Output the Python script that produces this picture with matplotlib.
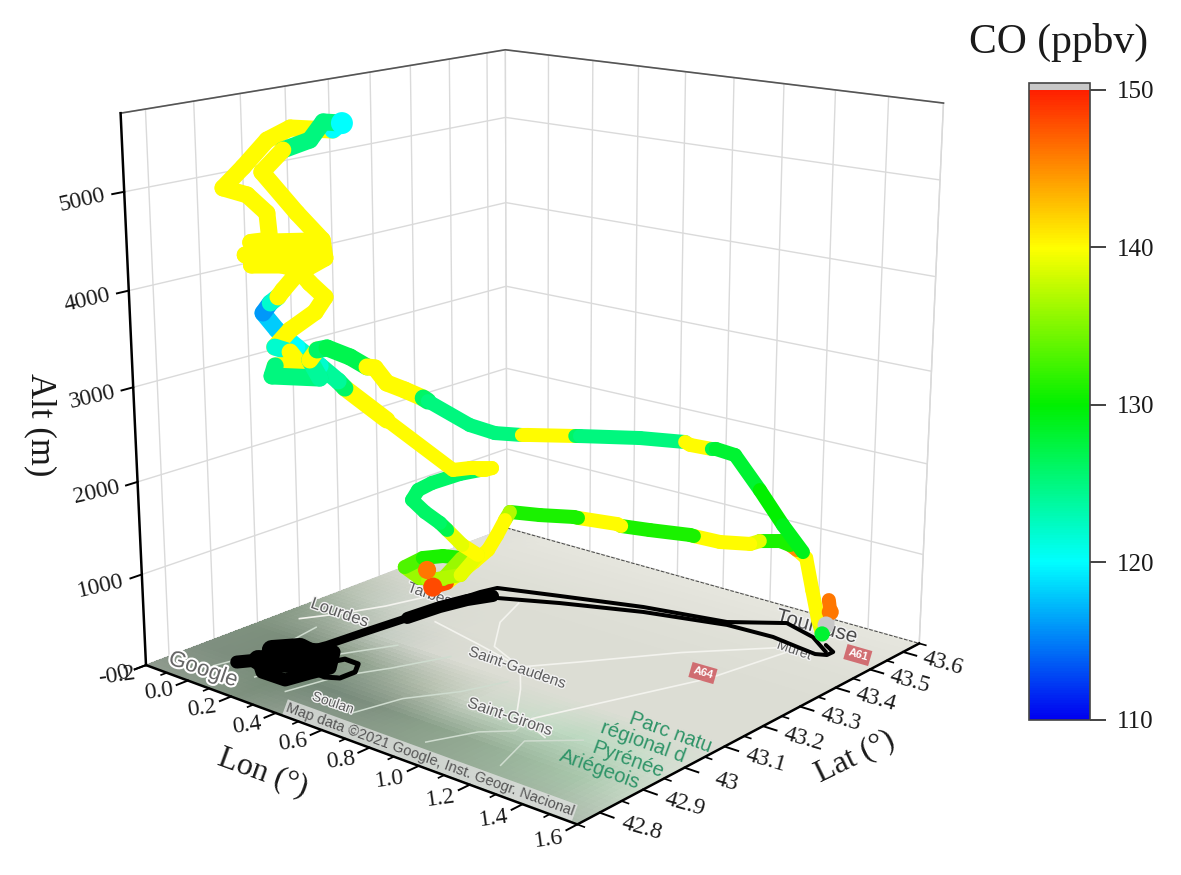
import numpy as np
import matplotlib
matplotlib.use('Agg')
import matplotlib.pyplot as plt
from matplotlib import patheffects
from matplotlib.cm import ScalarMappable
from matplotlib.colors import LinearSegmentedColormap, Normalize, to_rgb
from mpl_toolkits.mplot3d import proj3d
from mpl_toolkits.mplot3d.art3d import Line3DCollection

plt.rcParams['font.family'] = ['Liberation Serif', 'DejaVu Serif']

# flight track
lon = [1.366,1.395,1.405,1.405,1.375,1.343,1.301,1.268,1.275,1.230,1.144,1.099,0.990,0.896,0.880,0.749,0.657,0.641,0.515,0.499,
       0.392,0.301,0.282,0.254,0.230,0.200,0.141,0.144,0.142,0.143,0.150,0.145,0.151,0.168,0.160,0.155,0.180,0.197,0.169,0.143,0.144,0.152,0.164,
       0.161,0.151,0.171,0.211,0.217,0.229,0.185,0.160,0.175,0.162,0.158,0.140,0.110,0.082,0.069,0.099,0.130,0.156,0.185,0.056,
       0.234,0.092,0.221,0.070,0.200,0.070,0.116,0.098,0.052,-0.004,0.045,0.090,0.158,0.258,0.292,0.235,0.204,0.127,0.077,0.169,0.239,0.245,0.185,
       0.220,0.255,0.206,0.114,0.057,0.093,0.104,0.069,0.074,0.139,0.128,0.146,0.139,0.163,0.153,0.160,0.170,0.157,0.151,0.137,
       0.185,0.224,0.281,0.303,0.464,0.483,0.679,0.841,0.859,0.943,0.958,1.018,1.088,1.149,1.248]
lat = [43.553,43.536,43.517,43.506,43.516,43.520,43.531,43.528,43.502,43.506,43.510,43.515,43.505,43.495,43.495,43.469,43.449,43.448,43.420,43.419,
       43.392,43.366,43.364,43.359,43.349,43.329,43.291,43.253,43.240,43.221,43.180,43.228,43.276,43.315,43.270,43.235,43.305,43.341,43.316,43.292,43.273,43.231,43.193,
       43.210,43.250,43.310,43.340,43.350,43.361,43.329,43.299,43.129,43.039,43.026,42.995,42.959,42.930,42.907,42.909,42.911,42.910,42.934,42.879,
       42.954,42.882,42.938,42.885,42.945,42.885,42.904,42.908,42.889,42.865,42.886,42.917,42.934,42.976,42.979,42.967,42.953,42.932,42.910,42.938,42.957,42.959,42.934,
       42.937,42.952,42.954,42.943,42.936,42.952,42.968,42.930,42.920,42.994,42.978,42.986,43.012,43.052,43.096,43.111,43.133,43.183,43.231,43.250,
       43.329,43.372,43.410,43.413,43.443,43.444,43.484,43.503,43.505,43.509,43.510,43.523,43.547,43.573,43.561]
alt = [484,404,302,222,335,639,945,1014,1120,1125,1055,981,940,956,957,962,976,989,1016,1017,
       1008,1022,918,732,556,426,201,223,445,385,590,607,552,473,300,340,300,486,626,823,937,1137,1346,
       1429,1439,1462,1488,1478,1490,1511,1518,2343,2809,2900,3092,3322,3522,3720,3837,3913,3998,4190,4343,
       4415,4284,4254,4240,4480,4470,4496,4757,4939,5009,5220,5479,5609,5589,5668,5669,5490,5380,5159,4758,4496,4313,4170,
       4071,3927,3745,3523,3322,3270,3117,3138,3048,2964,3170,3276,3260,3125,2955,2928,2740,2587,2428,2359,
       2004,1874,1832,1842,1888,1898,1941,1971,1947,1949,1958,1909,1527,1133,920]
co = [146,146,152,128,139,140,140,140,145,131,131,139,140,140,131,131,131,140,140,131,
      131,131,137,140,140,140,140,148,146,130,136,133,131,131,136,136,137,139,140,139,127,126,126,
      126,126,126,126,140,140,140,140,140,140,126,124,122,120,118,116,122,140,140,140,
      140,140,140,140,140,140,140,140,140,140,140,140,140,140,120,125,125,125,140,140,140,140,140,
      140,140,140,140,140,122,140,140,125,125,124,140,126,127,127,140,140,140,140,126,
      125,125,125,140,140,126,125,125,140,140,127,128,128,130,129]

# spots that sit on top of the track
spot_lon = [1.395,1.405,1.405,0.142,0.144,0.292]
spot_lat = [43.536,43.517,43.506,43.240,43.253,42.979]
spot_alt = [404,302,222,445,223,5668]
spot_co = [146,152,128,146,148,120]

# ground track (black)
band_lon = [0.236,0.194,0.168,0.154]
band_lat = [43.358,43.313,43.257,43.182]
tail_lon = [0.154,0.135,0.121,0.098]
tail_lat = [43.182,43.088,43.004,42.953]
blob_lon = [0.004,0.044,0.128,0.232,0.251,0.270,0.182,0.073,0.015]
blob_lat = [42.855,42.884,42.852,42.853,42.900,42.936,42.990,42.966,42.929]
body_lon = [0.044,0.172,0.185,0.073,0.015]
body_lat = [42.884,42.916,42.956,42.966,42.929]
ring_lon = [0.234,0.253,0.315,0.355,0.353,0.311,0.250]
ring_lat = [42.954,42.979,42.978,42.950,42.916,42.903,42.905]
up_lon = [0.155,0.176,0.195,0.413,0.699,1.002,1.161,1.300,1.408]
up_lat = [43.265,43.358,43.393,43.434,43.486,43.522,43.584,43.559,43.517]
lo_lon = [0.214,0.260,0.457,0.728,1.018,1.199,1.323,1.391,1.425,1.426,1.373]
lo_lat = [43.309,43.355,43.407,43.467,43.511,43.516,43.504,43.498,43.507,43.525,43.543]

# roads and valleys on the base map
road_lon = [[1.30,1.05,0.85,0.73,0.50,0.25],[1.32,1.25,1.12,1.02],[0.06,0.02,-0.05,-0.12],[0.73,0.85,0.97,1.15],[0.35,0.42,0.55,0.73]]
road_lat = [[43.50,43.36,43.22,43.14,43.17,43.20],[43.50,43.30,43.12,42.98],[43.27,43.20,43.12,43.06],[43.14,43.07,42.99,42.95],[43.36,43.27,43.18,43.14]]
valley_lon = [[-0.03,0.02,-0.02],[0.30,0.34,0.42,0.50],[0.58,0.62,0.72,0.78],[0.90,0.97,1.05,1.00],[1.18,1.12,1.25],[0.14,0.20,0.30]]
valley_lat = [[42.82,42.93,43.05],[42.82,42.92,43.00,43.10],[42.83,42.92,43.00,43.08],[42.82,42.90,42.94,43.03],[42.83,42.92,42.98],[42.83,42.98,43.08]]

lon_ticks = [-0.2,0.0,0.2,0.4,0.6,0.8,1.0,1.2,1.4,1.6]
lon_labels = ['-0.2','0.0','0.2','0.4','0.6','0.8','1.0','1.2','1.4','1.6']
lon_minor = [-0.1,0.1,0.3,0.5,0.7,0.9,1.1,1.3,1.5]
lat_ticks = [42.8,42.9,43.0,43.1,43.2,43.3,43.4,43.5,43.6]
lat_labels = ['42.8','42.9','43','43.1','43.2','43.3','43.4','43.5','43.6']
lat_minor = [42.75,42.85,42.95,43.05,43.15,43.25,43.35,43.45,43.55,43.65]
alt_ticks = [0,1000,2000,3000,4000,5000]
cbar_ticks = [110,120,130,140,150]

# base map colours, south row first, west column first
map_colors = [
    ['#8f9a8e','#8a998a','#7f917f','#8e9c8e','#8c9c8c','#8c9f8c','#93a693','#9aad9a','#a3b3a2','#b0beb0'],
    ['#7f8f80','#7b8d7c','#748a75','#76897a','#7f9180','#8aa08a','#93aa93','#9cb89e','#a8c6ab','#c7d8c6'],
    ['#7e917e','#7a8c7a','#82957f','#9aaa98','#b5bfae','#cdd6c9','#c8dcc8','#bcd8c0','#c3dcc6','#d8dfd4'],
    ['#8e9f8c','#a8b5a5','#c4ccc2','#d6d8d0','#dcddd4','#dcddd4','#dcddd4','#dcddd4','#dcddd4','#dcddd4'],
    ['#b5c0b0','#c8d0c5','#d8dad2','#dcddd4','#dcddd4','#dcddd4','#dcddd4','#dcddd4','#dcddd4','#dcddd4'],
    ['#cfd3c8','#d8dad2','#dcddd4','#dcddd4','#dcddd4','#dcddd4','#dcddd4','#dcddd4','#dcddd4','#dcddd4'],
    ['#dedfd6','#dedfd6','#dedfd6','#dedfd6','#dedfd6','#dedfd6','#dedfd6','#dedfd6','#dedfd6','#dedfd6'],
    ['#e2e2da','#e2e2da','#e2e2da','#e2e2da','#e2e2da','#e2e2da','#e2e2da','#e2e2da','#e2e2da','#e2e2da'],
    ['#e0e0da','#e6e6de','#e6e6de','#e6e6de','#e6e6de','#e6e6de','#e6e6de','#e6e6de','#e6e6de','#e6e6de'],
]

fig = plt.figure(figsize=(11.81, 8.75), dpi=100)
W, H = 1181., 875.
s, cx, cy = 951.4944, 524.0638, 402.4427
ax = fig.add_axes([(cx - s / 2) / W, (H - cy - s / 2) / H, s / W, s / H], projection='3d')
ax.computed_zorder = False
lon0, lon1 = -0.2, 1.6
lat0, lat1 = 42.75, 43.65
alt1 = 5780
ax.set_xlim(lon0, lon1, view_margin=0)
ax.set_ylim(lat0, lat1, view_margin=0)
ax.set_zlim(0, alt1, view_margin=0)
ax.view_init(elev=15.8464, azim=-49.6771)
ax.set_proj_type('persp', focal_length=0.4843)
ax.set_box_aspect((1, 0.9859, 0.9962))
ax.set_xticks(lon_ticks)
ax.set_yticks(lat_ticks)
ax.set_zticks(alt_ticks)
ax.set_xticklabels([])
ax.set_yticklabels([])
ax.set_zticklabels([])
for axis in (ax.xaxis, ax.yaxis, ax.zaxis):
    axis.set_pane_color((1, 1, 1, 1))
    axis.pane.set_edgecolor('#d8d8d8')
    axis.line.set_color((1, 1, 1, 0))
    axis._axinfo['grid'].update(color='#dadada', linewidth=1.0)
    axis._axinfo['tick'].update(inward_factor=0, outward_factor=0)


def at(x, y, z, text, **kw):
    # real 2D text at a 3D spot, mplot3d's own text ignores rotation
    xp, yp, _ = proj3d.proj_transform(x, y, z, ax.get_proj())
    kw.setdefault('rotation_mode', 'anchor')
    kw.setdefault('ha', 'center')
    kw.setdefault('va', 'center')
    return ax.text2D(xp, yp, text, transform=ax.transData, **kw)


# base map
rgb = np.array([[to_rgb(c) for c in row] for row in map_colors])
ny, nx = 73, 73
yi = np.linspace(0, rgb.shape[0] - 1, ny)
xi = np.linspace(0, rgb.shape[1] - 1, nx)
fine = np.zeros((ny, nx, 3))
for k in range(3):
    tmp = np.array([np.interp(xi, np.arange(rgb.shape[1]), rgb[r, :, k]) for r in range(rgb.shape[0])])
    fine[:, :, k] = np.array([np.interp(yi, np.arange(rgb.shape[0]), tmp[:, c]) for c in range(nx)]).T
X, Y = np.meshgrid(np.linspace(lon0, lon1, nx), np.linspace(lat0, lat1, ny))
ax.plot_surface(X, Y, np.zeros_like(X), facecolors=fine, rstride=1, cstride=1, shade=False,
                antialiased=False, linewidth=0, zorder=1)
ax.plot([lon0, lon1], [lat1, lat1], [0, 0], ls='--', color='#444444', lw=0.7, zorder=1.5)
for a, b in zip(road_lon, road_lat):
    ax.plot(a, b, [0] * len(a), color='#f3f3ee', lw=1.2, zorder=1.4)
for a, b in zip(valley_lon, valley_lat):
    ax.plot(a, b, [0] * len(a), color='#cfdccf', lw=1.1, zorder=1.4)

# map labels
sans = ['Liberation Sans', 'DejaVu Sans']
halo = [patheffects.withStroke(linewidth=2, foreground='#f2f2f2')]
town = dict(family=sans, color='#5c5c5c', rotation=-19, zorder=2, path_effects=halo)
at(-0.053, 43.124, 0, 'Lourdes', fontsize=12, **town)
at(0.060, 43.290, 0, 'Tarbes', fontsize=11, **town)
at(0.728, 43.133, 0, 'Saint-Gaudens', fontsize=11, **town)
at(0.969, 42.975, 0, 'Saint-Girons', fontsize=11.5, **town)
at(0.479, 42.836, 0, 'Soulan', fontsize=10, **town)
at(1.320, 43.490, 0, 'Muret', fontsize=10, **town)
at(1.259, 43.602, 0, 'Toulouse', fontsize=15, family=sans, color='#4a4a4a', rotation=-15, zorder=2, path_effects=halo)
at(-0.029, 42.796, 0, 'Google', fontsize=16, family=sans, color='#666666', rotation=-19, zorder=2,
   path_effects=[patheffects.withStroke(linewidth=3, foreground='white')])
at(0.997, 42.776, 0, 'Map data ©2021 Google, Inst. Geogr. Nacional', fontsize=10.5, family=sans, color='#555555', rotation=-20,
   zorder=2, bbox=dict(facecolor='#e4e4e4', edgecolor='none', alpha=0.75, pad=1))
green = dict(family=sans, color='#2f9468', fontsize=14.5, rotation=-20, zorder=2)
at(1.416, 43.087, 0, 'Parc natu', **green)
at(1.395, 43.033, 0, 'régional d', **green)
at(1.441, 42.967, 0, 'Pyrénée', **green)
at(1.422, 42.913, 0, 'Ariégeois', **green)
shield = dict(family=sans, color='white', fontweight='bold', fontsize=8, rotation=-16, zorder=2,
              bbox=dict(facecolor='#cf5a60', edgecolor='none', alpha=0.85, pad=2))
at(1.209, 43.312, 0, 'A64', **shield)
at(1.502, 43.540, 0, 'A61', **shield)

# ground track
px = 0.72
for a, b, w in [(up_lon, up_lat, 4), (lo_lon, lo_lat, 4), (band_lon, band_lat, 12), (tail_lon, tail_lat, 8),
                (blob_lon, blob_lat, 13), (body_lon, body_lat, 20), (ring_lon, ring_lat, 5)]:
    ax.plot(a, b, [0] * len(a), color='black', lw=w * px, zorder=3, solid_capstyle='round', solid_joinstyle='round')

# flight track coloured by CO
cmap = LinearSegmentedColormap.from_list('co', ['#0000f0', '#00ffff', '#00f000', '#ffff00', '#ff2000'], N=256)
cmap.set_over('#c8c8c8')
norm = Normalize(110, 150)
pts = np.column_stack([lon, lat, alt])
segs = np.stack([pts[:-1], pts[1:]], axis=1)
mid_alt = (pts[:-1, 2] + pts[1:, 2]) / 2
widths = np.where(mid_alt > 2200, 17, 14) * px
track = Line3DCollection(segs, cmap=cmap, norm=norm, linewidths=widths, capstyle='round', zorder=5)
track.set_array(np.array(co[1:], dtype=float))
ax.add_collection3d(track)
ax.scatter(spot_lon, spot_lat, spot_alt, c=spot_co, cmap=cmap, norm=norm, s=[150, 150, 120, 170, 190, 250],
           linewidths=0, depthshade=False, zorder=5.5)

# box top edge and axes
ax.plot([lon0, lon0, lon1], [lat0, lat1, lat1], [alt1, alt1, alt1], color='#555555', lw=1.2, zorder=2)
ax.plot([lon0, lon1, lon1], [lat0, lat0, lat1], [0, 0, 0], color='black', lw=1.8, zorder=6)
ax.plot([lon0, lon0], [lat0, lat0], [0, alt1], color='black', lw=1.8, zorder=6)
for v in lon_ticks:
    ax.plot([v, v], [lat0, lat0 - 0.024], [0, 0], color='black', lw=1.4, zorder=6)
for v in lon_minor:
    ax.plot([v, v], [lat0, lat0 - 0.012], [0, 0], color='black', lw=1.2, zorder=6)
for v in lat_ticks:
    ax.plot([lon1, lon1 + 0.05], [v, v], [0, 0], color='black', lw=1.4, zorder=6)
for v in lat_minor:
    ax.plot([lon1, lon1 + 0.025], [v, v], [0, 0], color='black', lw=1.2, zorder=6)
for v in alt_ticks:
    ax.plot([lon0, lon0], [lat0, lat0 - 0.024], [v, v], color='black', lw=1.4, zorder=6)

tick_font = dict(fontsize=17, color='#1a1a1a', zorder=7)
for v, t in zip(lon_ticks, lon_labels):
    at(v, lat0 - 0.062, 0, t, rotation=8, **tick_font)
for v, t in zip(lat_ticks, lat_labels):
    at(lon1 + 0.15, v, 0, t, rotation=-16, **tick_font)
for v in alt_ticks:
    at(lon0, lat0 - 0.0375, v, str(v), rotation=13, ha='right', **tick_font)

fig.text(263 / W, 1 - 773 / H, 'Lon (°)', fontsize=23, rotation=-20, ha='center', va='center', rotation_mode='anchor', color='#1a1a1a')
fig.text(855 / W, 1 - 757 / H, 'Lat (°)', fontsize=23, rotation=26, ha='center', va='center', rotation_mode='anchor', color='#1a1a1a')
fig.text(40 / W, 1 - 425 / H, 'Alt (m)', fontsize=25, rotation=-90, ha='center', va='center', rotation_mode='anchor', color='#1a1a1a')

# colour bar
cax = fig.add_axes([1029 / W, 1 - 720 / H, 61 / W, 637 / H])
cb = fig.colorbar(ScalarMappable(norm=norm, cmap=cmap), cax=cax, extend='max', extendrect=True, extendfrac=0.011)
cb.set_ticks(cbar_ticks)
cb.ax.tick_params(length=11.5, width=1.2, labelsize=18, pad=8, color='#222222', labelcolor='#1a1a1a')
cb.outline.set_edgecolor('#444444')
cb.outline.set_linewidth(1.2)
fig.text(1059 / W, 1 - 42 / H, 'CO (ppbv)', fontsize=30, ha='center', va='center', color='#1a1a1a')

fig.savefig('out.png', dpi=100)
